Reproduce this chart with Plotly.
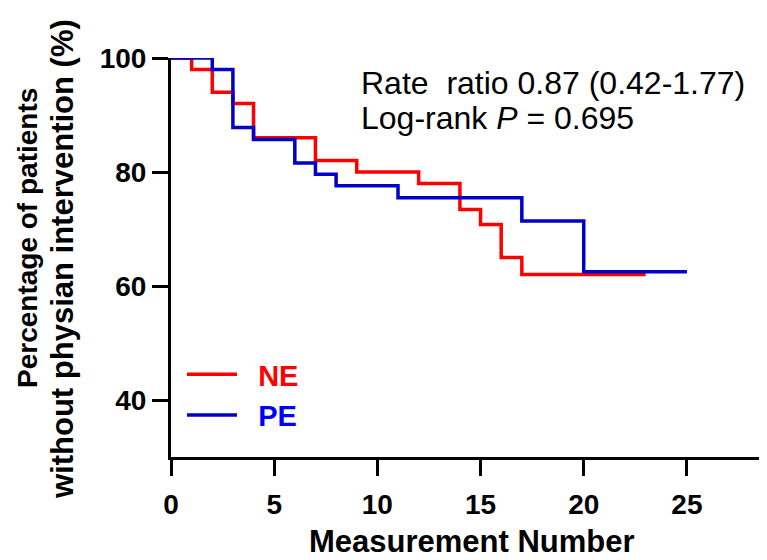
import plotly.graph_objects as go

# Kaplan-Meier style step data
ne_time = [0, 1, 2, 3, 4, 7, 9, 12, 14, 15, 16, 17, 23]
ne_pct = [100, 98, 94, 92, 86, 82, 80, 78, 73.4, 70.8, 65.0, 62.0, 62.0]
pe_time = [0, 2, 3, 4, 6, 7, 8, 11, 17, 20, 25]
pe_pct = [100, 98, 87.8, 85.7, 81.6, 79.6, 77.6, 75.5, 71.4, 62.5, 62.5]

x_ticks = [0, 5, 10, 15, 20, 25]
y_ticks = [40, 60, 80, 100]

FONT = "Liberation Sans, Arial, sans-serif"
RED = "#FF0000"
BLUE = "#0000C8"

# page body has an 8px margin; plot area in screen pixels
PX0, PX1, PY0, PY1 = 171, 767, 58, 457


def px(sx):
    return (sx - PX0) / (PX1 - PX0)


def py(sy):
    return (PY1 - sy) / (PY1 - PY0)


GAP = "\u00a0\u00a0"

fig = go.Figure()
fig.add_trace(go.Scatter(x=ne_time, y=ne_pct, mode="lines", line_shape="hv",
                         line=dict(color=RED, width=3.5), cliponaxis=False,
                         name=GAP + "<b><span style='color:#FF0000'>NE</span></b>"))
fig.add_trace(go.Scatter(x=pe_time, y=pe_pct, mode="lines", line_shape="hv",
                         line=dict(color=BLUE, width=3.5), cliponaxis=False,
                         name=GAP + "<b><span style='color:#0000FF'>PE</span></b>"))

axis_common = dict(showline=True, linecolor="black", linewidth=3, ticks="outside",
                   ticklen=16, tickwidth=3, tickcolor="black", showgrid=False,
                   zeroline=False, tickfont=dict(family=FONT, size=28, color="black",
                                                 weight="bold"))
fig.update_xaxes(range=[0, 28.88], tickvals=x_ticks, ticklabelstandoff=4, **axis_common)
fig.update_yaxes(range=[30, 100], tickvals=y_ticks, **axis_common)

fig.add_annotation(xref="paper", yref="paper", x=px(472), y=py(541), xanchor="center",
                   yanchor="middle", showarrow=False,
                   text="<b>Measurement Number</b>",
                   font=dict(family=FONT, size=31, color="black"))
fig.add_annotation(xref="paper", yref="paper", x=px(27), y=py(238), xanchor="center",
                   yanchor="middle", showarrow=False, textangle=-90,
                   text="<b>Percentage of patients</b>",
                   font=dict(family=FONT, size=28, color="black"))
fig.add_annotation(xref="paper", yref="paper", x=px(62), y=py(259), xanchor="center",
                   yanchor="middle", showarrow=False, textangle=-90,
                   text="<b>without physian intervention (%)</b>",
                   font=dict(family=FONT, size=31, color="black"))
fig.add_annotation(xref="paper", yref="paper", x=px(359), y=py(83), xanchor="left",
                   yanchor="middle", showarrow=False, align="left",
                   text="Rate  ratio 0.87 (0.42-1.77)",
                   font=dict(family=FONT, size=32, color="black"))
fig.add_annotation(xref="paper", yref="paper", x=px(359), y=py(118), xanchor="left",
                   yanchor="middle", showarrow=False, align="left",
                   text="Log-rank <i>P</i> = 0.695",
                   font=dict(family=FONT, size=32, color="black"))

fig.update_layout(
    width=759, height=552,
    margin=dict(l=PX0 - 8, r=0, t=PY0 - 8, b=552 - (PY1 - 8)),
    plot_bgcolor="white", paper_bgcolor="white",
    showlegend=True,
    legend=dict(x=px(182), y=py(349), xanchor="left", yanchor="top",
                bgcolor="rgba(0,0,0,0)", font=dict(family=FONT, size=29),
                itemwidth=50, tracegroupgap=0),
)

fig.write_html("out.html")
